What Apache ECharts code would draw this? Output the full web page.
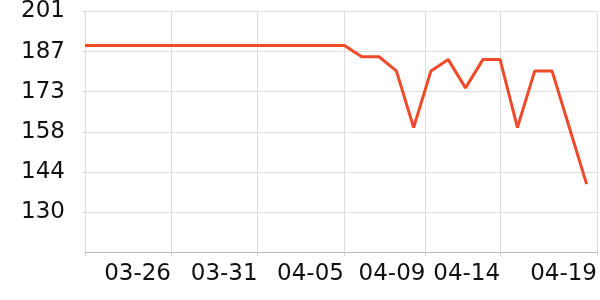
<!DOCTYPE html>
<html>
<head>
<meta charset="utf-8">
<script src="https://cdn.jsdelivr.net/npm/echarts@6/dist/echarts.min.js"></script>
<style>html,body{margin:0;padding:0;background:#fff}#c{width:600px;height:300px}</style>
</head>
<body>
<div id="c"></div>
<script>
// Data
var categories = ['03-21','03-22','03-23','03-24','03-25','03-26','03-27','03-28','03-29','03-30',
  '03-31','04-01','04-02','04-03','04-04','04-05','04-06','04-07','04-08','04-09',
  '04-10','04-11','04-12','04-13','04-14','04-15','04-16','04-17','04-18','04-19'];
var values = [189,189,189,189,189,189,189,189,189,189,
  189,189,189,189,189,189,185,185,180,160,
  180,184,174,184,184,160,180,180,160,140];
// x tick labels and their positions on the day scale (day 0 = first category)
var xTickLabels = ['03-26','03-31','04-05','04-09','04-14','04-19'];
var xTickValues = [4.97, 9.98, 14.97, 19.68, 24.0, 29.6];
// y tick labels and values
var yTickLabels = ['130','144','158','173','187','201'];
var yMin = 116, yMax = 201;
var yTickValues = yTickLabels.map(function(_, i){ return yMin + (i + 1) * (yMax - yMin) / 6; });

var seriesData = values.map(function(v, i){ return [i, v]; });
var FONT = 'DejaVu Sans';

var chart = echarts.init(document.getElementById('c'), null, {renderer: 'canvas'});
chart.setOption({
  animation: false,
  grid: {left: 85, right: 0, top: 10, bottom: 48, containLabel: false},
  xAxis: {
    type: 'value', min: 0, max: 29.6,
    axisLine: {show: true, lineStyle: {color: '#bbbbbb', width: 1}},
    axisTick: {show: true, length: 4, lineStyle: {color: '#cccccc'}, customValues: [0].concat(xTickValues)},
    splitLine: {show: true, lineStyle: {color: '#dddddd', width: 1}},
    axisLabel: {
      customValues: xTickValues,
      align: 'right', margin: 11,
      fontFamily: FONT, fontSize: 23, color: '#111',
      formatter: function(v){
        var best = 0, d = 1e9;
        xTickValues.forEach(function(t, i){ if (Math.abs(t - v) < d) { d = Math.abs(t - v); best = i; } });
        return xTickLabels[best];
      }
    }
  },
  yAxis: {
    type: 'value', min: yMin, max: yMax,
    axisLine: {show: false},
    axisTick: {show: true, length: 2, lineStyle: {color: '#cccccc'}, customValues: yTickValues},
    splitLine: {show: true, lineStyle: {color: '#dddddd', width: 1}},
    axisLabel: {
      customValues: yTickValues,
      margin: 20,
      padding: [6, 0, 0, 0],
      fontFamily: FONT, fontSize: 23, color: '#111',
      formatter: function(v){
        var best = 0, d = 1e9;
        yTickValues.forEach(function(t, i){ if (Math.abs(t - v) < d) { d = Math.abs(t - v); best = i; } });
        return yTickLabels[best];
      }
    }
  },
  series: [{
    type: 'line',
    data: seriesData,
    showSymbol: false,
    symbol: 'none',
    lineStyle: {color: '#ef4a2a', width: 3},
    itemStyle: {color: '#ef4a2a'}
  }]
});
</script>
</body>
</html>
